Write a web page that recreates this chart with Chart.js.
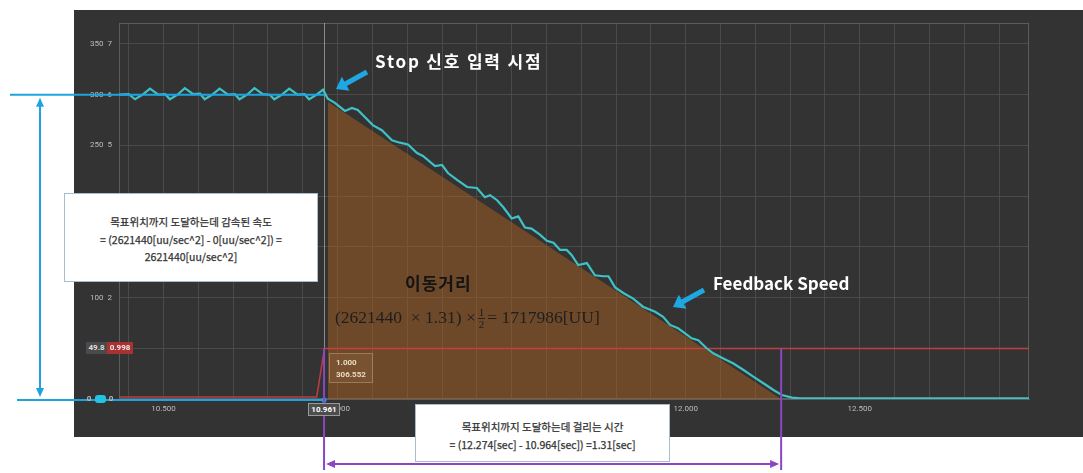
<!DOCTYPE html>
<html><head><meta charset="utf-8">
<script src="https://cdn.jsdelivr.net/npm/chart.js@4.4.1/dist/chart.umd.min.js"></script>
<style>
html,body{margin:0;padding:0;background:#fff;}
#wrap{position:relative;width:1083px;height:473px;overflow:hidden;font-family:"Noto Sans CJK KR","Noto Sans",sans-serif;}
canvas{position:absolute;left:0;top:0;}
.ov{position:absolute;white-space:nowrap;}
.box{position:absolute;background:#fff;border:1px solid #a9bccb;box-sizing:border-box;color:#333;font-size:10.5px;text-align:center;line-height:17.5px;white-space:nowrap;-webkit-text-stroke:0.25px #333;}
.tag{position:absolute;font-family:Roboto,"DejaVu Sans",sans-serif;font-size:8px;font-weight:bold;line-height:12px;text-align:center;box-sizing:border-box;}
.big{font-size:17px;font-weight:bold;}
.frac{display:inline-block;vertical-align:middle;text-align:center;font-size:11px;line-height:11px;margin:0 2px;}
.frac span{display:block;}
.frac .num{border-bottom:1px solid #222;padding:0 1px;}
</style></head>
<body><div id="wrap"><canvas id="c" width="1083" height="473"></canvas>
<div class="ov big" style="left:375px;top:48px;color:#fff;letter-spacing:1.8px;">Stop 신호 입력 시점</div>
<div class="ov big" style="left:713px;top:270px;color:#fff;">Feedback Speed</div>
<div class="ov big" style="left:405px;top:270px;color:#141414;letter-spacing:1px;">이동거리</div>
<div class="ov" style="left:335px;top:305px;color:#1e1e1e;font-family:'Liberation Serif','DejaVu Serif',serif;font-size:17.5px;line-height:24px;">(2621440 &nbsp;× 1.31) ×<span class="frac"><span class="num">1</span><span>2</span></span>= 1717986[UU]</div>
<div class="box" style="left:64px;top:193px;width:254px;height:89px;padding-top:19px;">목표위치까지 도달하는데 감속된 속도<br>= (2621440[uu/sec^2] - 0[uu/sec^2]) =<br>2621440[uu/sec^2]</div>
<div class="box" style="left:415px;top:404px;width:255px;height:58px;padding-top:13px;">목표위치까지 도달하는데 걸리는 시간<br>= (12.274[sec] - 10.964[sec]) =1.31[sec]</div>
<div class="tag" style="left:86px;top:342px;width:21px;height:12px;background:#4a4a4a;color:#ddd;">49.8</div>
<div class="tag" style="left:107px;top:342px;width:26px;height:12px;background:#a83232;color:#eee;">0.998</div>
<div class="tag" style="left:85px;top:393px;width:8px;height:12px;color:#bbb;">0</div>
<div class="tag" style="left:95px;top:395px;width:11px;height:8px;background:#22c3e3;border-radius:3px;"></div>
<div class="tag" style="left:107px;top:393px;width:8px;height:12px;color:#bbb;">0</div>
<div class="tag" style="left:308px;top:403px;width:32px;height:13px;background:#4d4d4d;border:1px solid #999;color:#fff;line-height:11px;">10.961</div>
<div class="tag" style="left:329px;top:353px;width:44px;height:30px;background:rgba(130,90,55,0.55);border:1px solid rgba(220,200,170,0.35);color:#eadcc4;text-align:left;padding-left:6px;line-height:12px;padding-top:3px;">1.000<br>306.552</div>
</div>
<script>
// ---- data ----
const timeStart = 10.372;
const timeEnd = 12.986;
const speedTimes = [10.372,10.400,10.418,10.440,10.461,10.485,10.505,10.518,10.540,10.561,10.585,10.605,10.618,10.640,10.661,10.685,10.705,10.718,10.740,10.761,10.785,10.805,10.818,10.840,10.861,10.885,10.905,10.918,10.940,10.958,
 10.972,10.992,11.021,11.041,11.058,11.078,11.101,11.127,11.156,11.179,11.202,11.228,11.245,11.280,11.300,11.317,11.343,11.372,11.400,11.423,11.438,11.458,11.476,11.500,11.519,11.538,11.557,11.581,11.601,11.620,11.639,11.658,11.672,11.691,11.716,11.739,11.763,11.778,11.797,11.823,11.849,11.877,11.912,11.935,11.955,11.978,11.998,12.017,12.036,12.060,12.079,12.108,12.137,12.166,12.194,12.223,12.252,12.276,12.305,12.329,12.986];
const speedValues = [300,300.5,295.5,300,306,300,300.5,295.5,300,306.5,300.5,301,295.5,300,306,300,300.5,295.5,300,306.5,300.5,300,295.5,300,306,300,300.5,295.5,300,305,
 296,292,284,287,285,278,270,265,255,252.7,251,242.5,239.6,229.7,230.7,222.8,216,209,208,199,201,196,189,178,180,169,168,162,156,154,147,147,142,132,134,122,121,121,110,104,99,91,86,81,73,69.7,64.8,59.8,58,50,45,40,35,28.6,22,15.5,8.9,3.9,1.3,0.7,0.7];
const stopSignalTimes = [10.372, 10.940, 10.962, 12.986];
const stopSignalValues = [0.04, 0.04, 0.998, 0.998];
const distanceTimes = [10.972, 12.274];
const distanceValues = [293, 0];
const commandSpeed = 300;
const stopTime = 10.961;
const arrivalTime = 12.274;
const cursorSpeed = 49.8;
const yTickValues = [0,50,100,150,200,250,300,350];
const yMax = 370.7;
const xGridValues = [10.4,10.5,10.6,10.7,10.8,10.9,11.0,11.1,11.2,11.3,11.4,11.5,11.6,11.7,11.8,11.9,12.0,12.1,12.2,12.3,12.4,12.5,12.6,12.7,12.8,12.9];
const xLabelValues = [10.5, 11.0, 11.5, 12.0, 12.5];

const pts = (xs, ys) => xs.map((x, i) => ({x: x, y: ys[i]}));

function arrowHead(ctx, x1, y1, x2, y2, len, half) {
  const a = Math.atan2(y2 - y1, x2 - x1);
  ctx.beginPath();
  ctx.moveTo(x2, y2);
  ctx.lineTo(x2 - len * Math.cos(a) + half * Math.sin(a), y2 - len * Math.sin(a) - half * Math.cos(a));
  ctx.lineTo(x2 - len * Math.cos(a) - half * Math.sin(a), y2 - len * Math.sin(a) + half * Math.cos(a));
  ctx.closePath();
  ctx.fill();
}
function arrow(ctx, x1, y1, x2, y2, w, len, half, color, both) {
  ctx.save();
  ctx.strokeStyle = color; ctx.fillStyle = color; ctx.lineWidth = w;
  const a = Math.atan2(y2 - y1, x2 - x1);
  const sx = both ? x1 + (len - 1) * Math.cos(a) : x1, sy = both ? y1 + (len - 1) * Math.sin(a) : y1;
  ctx.beginPath();
  ctx.moveTo(sx, sy);
  ctx.lineTo(x2 - (len - 1) * Math.cos(a), y2 - (len - 1) * Math.sin(a));
  ctx.stroke();
  arrowHead(ctx, x1, y1, x2, y2, len, half);
  if (both) arrowHead(ctx, x2, y2, x1, y1, len, half);
  ctx.restore();
}

const annot = {
  id: 'annot',
  beforeDraw(chart) {
    const ctx = chart.ctx;
    ctx.save();
    ctx.fillStyle = '#ffffff'; ctx.fillRect(0, 0, chart.width, chart.height);
    ctx.fillStyle = '#333333'; ctx.fillRect(74, 10, chart.width - 74, 427);
    ctx.restore();
  },
  beforeDatasetsDraw(chart) {
    const ctx = chart.ctx, a = chart.chartArea, xs = chart.scales.x;
    ctx.save();
    ctx.strokeStyle = '#5c5c5c'; ctx.lineWidth = 1;
    ctx.strokeRect(a.left + 0.5, a.top + 0.5, a.right - a.left - 1, a.bottom - a.top - 1);
    const cx = Math.round(xs.getPixelForValue(stopTime)) + 0.5;
    ctx.strokeStyle = 'rgba(210,210,210,0.55)';
    ctx.beginPath(); ctx.moveTo(cx, a.top); ctx.lineTo(cx, a.bottom); ctx.stroke();
    ctx.restore();
  },
  afterDatasetsDraw(chart) {
    const ctx = chart.ctx, xs = chart.scales.x, ys = chart.scales.y;
    const blue = '#1fa3df', purple = '#8a46c4';
    const y300 = ys.getPixelForValue(commandSpeed), y0 = ys.getPixelForValue(0);
    const xStop = xs.getPixelForValue(stopTime), xArr = xs.getPixelForValue(arrivalTime);
    ctx.save();
    ctx.strokeStyle = blue; ctx.lineWidth = 2;
    ctx.beginPath(); ctx.moveTo(10, y300); ctx.lineTo(xStop, y300); ctx.stroke();
    ctx.beginPath(); ctx.moveTo(17, y0 + 1); ctx.lineTo(xStop, y0 + 1); ctx.stroke();
    ctx.fillStyle = blue;
    ctx.beginPath(); ctx.arc(xStop, y0 + 1, 2.5, 0, Math.PI * 2); ctx.fill();
    ctx.restore();
    arrow(ctx, 40, y300 + 3, 40, y0 - 2, 2, 9, 4, blue, true);
    const yCur = ys.getPixelForValue(cursorSpeed);
    ctx.save();
    ctx.strokeStyle = purple; ctx.lineWidth = 2;
    ctx.beginPath(); ctx.moveTo(xStop, yCur); ctx.lineTo(xStop, 470); ctx.stroke();
    ctx.beginPath(); ctx.moveTo(xArr, yCur); ctx.lineTo(xArr, 470); ctx.stroke();
    ctx.restore();
    arrow(ctx, xStop + 2, 464, xArr - 2, 464, 2, 9, 4, purple, true);
    arrow(ctx, 367, 72, 336, 89, 5, 11, 8, '#1fa7e3', false);
    arrow(ctx, 704, 290, 673, 307, 5, 11, 8, '#1fa7e3', false);
  }
};

new Chart(document.getElementById('c'), {
  type: 'line',
  data: {
    datasets: [
      { label: 'Feedback Speed', data: pts(speedTimes, speedValues), borderColor: '#3fc2c6', borderWidth: 2.2, pointRadius: 0, tension: 0, yAxisID: 'y', fill: false },
      { label: 'Stop', data: pts(stopSignalTimes, stopSignalValues), borderColor: 'rgba(205,62,62,0.9)', borderWidth: 1.5, pointRadius: 0, tension: 0, yAxisID: 'y2', fill: false },
      { label: '이동거리', data: pts(distanceTimes, distanceValues), borderWidth: 0, borderColor: 'rgba(0,0,0,0)', backgroundColor: 'rgba(180,100,30,0.45)', pointRadius: 0, tension: 0, yAxisID: 'y', fill: 'origin' }
    ]
  },
  options: {
    responsive: false, animation: false, parsing: false,
    layout: { padding: { left: 0, top: 23, right: 54, bottom: 54 } },
    plugins: { legend: { display: false }, tooltip: { enabled: false } },
    scales: {
      x: {
        type: 'linear', min: timeStart, max: timeEnd,
        afterBuildTicks: s => { s.ticks = xGridValues.map(v => ({ value: v })); },
        afterFit: s => { s.height = 20; },
        ticks: {
          autoSkip: false, maxRotation: 0, padding: 5, color: '#bdbdbd',
          font: { size: 8, family: 'Roboto' },
          callback: v => xLabelValues.some(l => Math.abs(l - v) < 1e-6) ? v.toFixed(3) : ''
        },
        grid: { color: '#4a4a4a', drawTicks: false },
        border: { color: '#5c5c5c' }
      },
      y: {
        min: 0, max: yMax,
        afterBuildTicks: s => { s.ticks = yTickValues.map(v => ({ value: v })); },
        afterFit: s => { s.width = 119; },
        ticks: {
          padding: 7, color: '#bdbdbd', font: { size: 8, family: 'Roboto' },
          callback: v => (v === 0 || v === 50) ? '' : v + '  ' + (v / 50)
        },
        grid: { color: '#4a4a4a', drawTicks: false },
        border: { color: '#5c5c5c' }
      },
      y2: { display: false, min: 0, max: yMax / 50 }
    }
  },
  plugins: [annot]
});
</script>
</body></html>
